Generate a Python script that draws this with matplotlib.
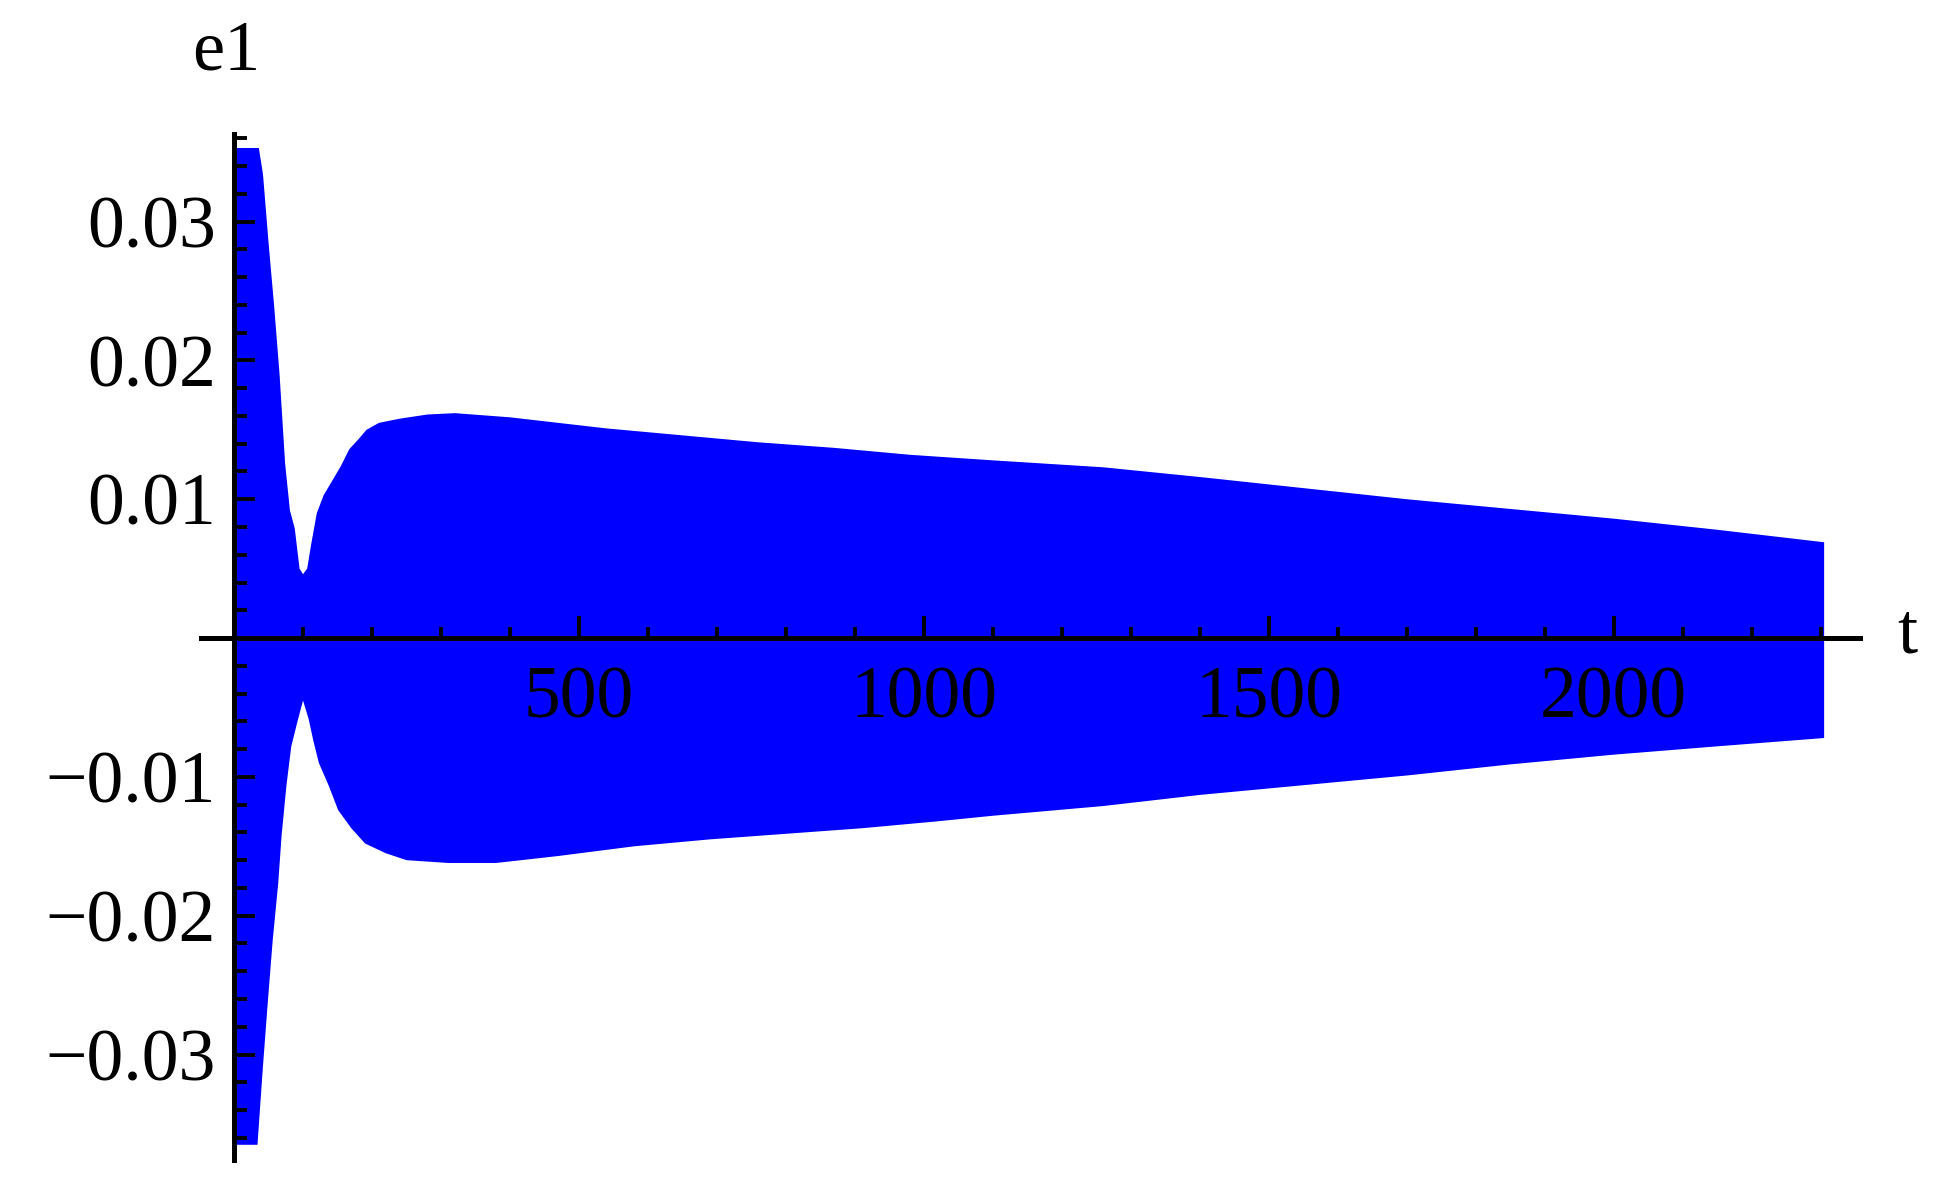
import numpy as np
import matplotlib
matplotlib.use("Agg")
import matplotlib.pyplot as plt

# upper envelope of e1(t)
t_upper = [0, 36, 42, 50, 58, 66, 74, 81, 88, 95, 100, 106, 112, 120, 130,
           142, 155, 167, 180, 192, 210, 240, 280, 320, 400, 470, 540, 650,
           760, 870, 980, 1100, 1260, 1400, 1550, 1700, 1850, 2000, 2150, 2305]
e1_upper = [0.0353, 0.0353, 0.0334, 0.0285, 0.0240, 0.0190, 0.0126, 0.0092,
            0.0079, 0.0050, 0.0046, 0.0050, 0.0068, 0.0090, 0.0103, 0.0113,
            0.0124, 0.0136, 0.0143, 0.0150, 0.0155, 0.0158, 0.0161, 0.0162,
            0.0159, 0.0155, 0.0151, 0.0146, 0.0141, 0.0137, 0.0132, 0.0128,
            0.0123, 0.0116, 0.0108, 0.0100, 0.0093, 0.0086, 0.0078, 0.0069]

# lower envelope
t_lower = [0, 34, 42, 49, 56, 64, 69, 76, 83, 92, 100, 108, 115, 123, 137,
           151, 170, 190, 220, 250, 310, 380, 470, 580, 690, 800, 910, 1020,
           1100, 1260, 1400, 1550, 1700, 1850, 2000, 2150, 2305]
e1_lower = [-0.0365, -0.0365, -0.0308, -0.0262, -0.0218, -0.0177, -0.0142,
            -0.0106, -0.0078, -0.0060, -0.0045, -0.0058, -0.0074, -0.0090,
            -0.0106, -0.0124, -0.0137, -0.0148, -0.0155, -0.0160, -0.0162,
            -0.0162, -0.0157, -0.0150, -0.0145, -0.0141, -0.0137, -0.0132,
            -0.0128, -0.0121, -0.0113, -0.0106, -0.0099, -0.0091, -0.0084,
            -0.0078, -0.0072]

x_major = [500, 1000, 1500, 2000]
x_labels = ["500", "1000", "1500", "2000"]
y_major = [-0.03, -0.02, -0.01, 0.01, 0.02, 0.03]
y_labels = ["\u22120.03", "\u22120.02", "\u22120.01", "0.01", "0.02", "0.03"]

plt.rcParams["font.family"] = ["Liberation Serif", "DejaVu Serif"]

fig = plt.figure(figsize=(19.45, 11.92), dpi=100)
ax = fig.add_axes([0.1033, 0.0268, 0.853, 0.8607])

# envelope of the fast oscillation, as one closed polygon
poly_t = np.concatenate([t_upper, t_lower[::-1]])
poly_e = np.concatenate([e1_upper, e1_lower[::-1]])
ax.fill(poly_t, poly_e, color="#0000ff", lw=0, zorder=1)

ax.set_xlim(-48, 2357)
ax.set_ylim(-0.0376, 0.0363)

for side in ("top", "right"):
    ax.spines[side].set_visible(False)
ax.spines["left"].set_position(("data", 0))
ax.spines["bottom"].set_position(("data", 0))
for side in ("left", "bottom"):
    ax.spines[side].set_linewidth(3.6)

ax.set_xticks(x_major)
ax.set_xticklabels(x_labels)
ax.set_xticks([v for v in range(100, 2400, 100) if v % 500], minor=True)
ax.set_yticks(y_major)
ax.set_yticklabels(y_labels)
y_minor = [k * 0.002 for k in range(-18, 19) if k % 5 and k != 0]
ax.set_yticks(y_minor, minor=True)

ax.tick_params(axis="x", which="major", direction="in", length=16, width=2.8,
               pad=20, labelsize=53)
ax.tick_params(axis="x", which="minor", direction="in", length=8, width=2.8)
ax.tick_params(axis="y", which="major", direction="in", length=15, width=2.8,
               pad=13, labelsize=53)
ax.tick_params(axis="y", which="minor", direction="in", length=9, width=2.8)

ax.text(-12, 0.0422, "e1", ha="center", va="center", fontsize=52, clip_on=False)
ax.text(2425, 0.0002, "t", ha="center", va="center", fontsize=52, clip_on=False)

fig.savefig("out.png", dpi=100)
